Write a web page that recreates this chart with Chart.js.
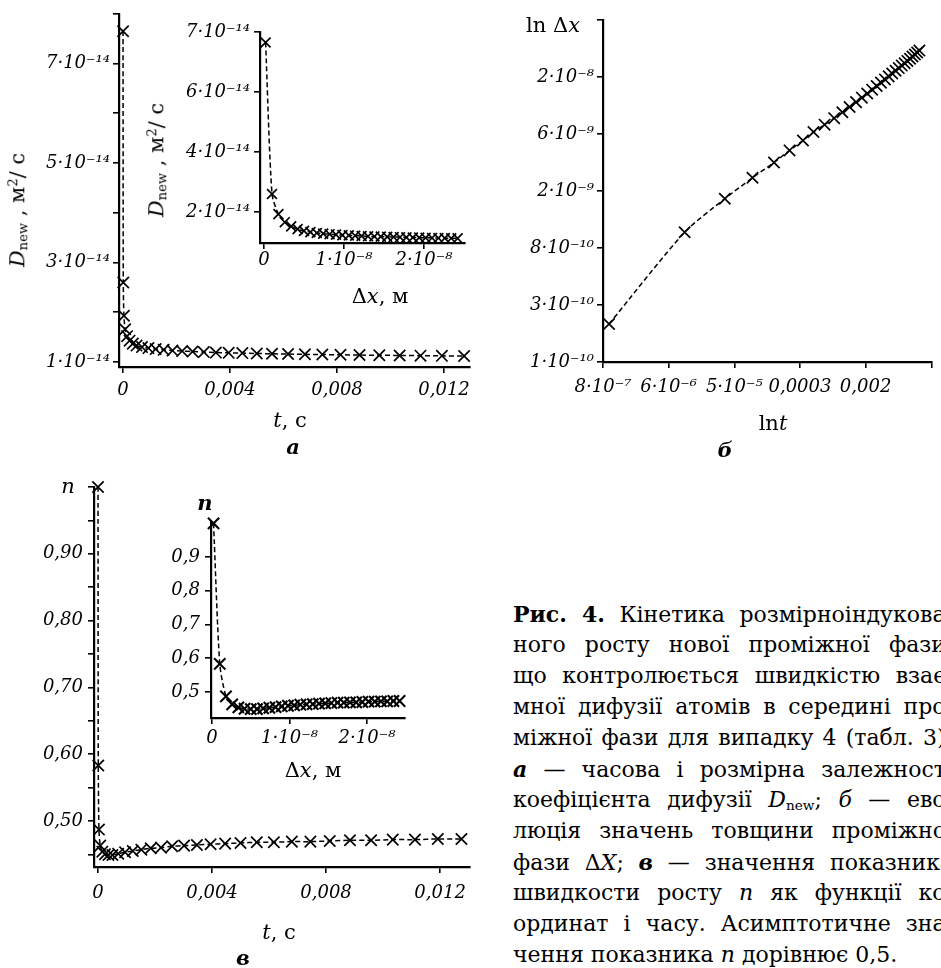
<!DOCTYPE html>
<html><head><meta charset="utf-8">
<script src="https://cdn.jsdelivr.net/npm/chart.js@4.4.0/dist/chart.umd.min.js"></script>
<style>
html,body{margin:0;padding:0;background:#fff;}
#root{position:relative;width:941px;height:968px;overflow:hidden;background:#fff;}
canvas{position:absolute;}
.lbl{position:absolute;font-family:'DejaVu Serif',serif;color:#000;white-space:nowrap;line-height:1;transform:translate(-50%,-50%);font-size:21px;}
.rot{transform:translate(-50%,-50%) rotate(-90deg);}
.lbl sub{font-size:0.62em;vertical-align:-0.25em;}
.lbl sup{font-size:0.62em;vertical-align:0.55em;}
#cap{position:absolute;left:513px;top:598px;width:428px;height:370px;overflow:hidden;font-family:'DejaVu Serif',serif;font-size:22px;color:#000;}
#cap div{position:absolute;left:0;white-space:nowrap;width:440px;text-align:justify;text-align-last:justify;line-height:1;}
#cap div.last{text-align-last:left;}
#cap sub{font-size:0.62em;vertical-align:-0.25em;}
</style>
</head><body>
<div id="root">
<canvas id="aMain" width="480" height="420" style="left:0;top:0;width:480px;height:420px"></canvas>
<canvas id="aInset" width="330" height="310" style="left:150px;top:0;width:330px;height:310px"></canvas>
<canvas id="bLog" width="461" height="470" style="left:480px;top:0;width:461px;height:470px"></canvas>
<canvas id="cMain" width="480" height="500" style="left:0;top:460px;width:480px;height:500px"></canvas>
<canvas id="cInset" width="300" height="290" style="left:150px;top:480px;width:300px;height:290px"></canvas>

<div class="lbl rot" style="left:18px;top:210px;"><i>D</i><sub>new</sub> , м<sup>2</sup>/ с</div>
<div class="lbl" style="left:290px;top:420px;"><i>t</i>, с</div>
<div class="lbl" style="left:293px;top:446px;font-weight:bold;font-style:italic;">а</div>
<div class="lbl rot" style="left:157px;top:160px;"><i>D</i><sub>new</sub> , м<sup>2</sup>/ с</div>
<div class="lbl" style="left:380px;top:296px;">Δ<i>x</i>, м</div>

<div class="lbl" style="left:553px;top:25px;">ln Δ<i>x</i></div>
<div class="lbl" style="left:773px;top:423px;">ln<i>t</i></div>
<div class="lbl" style="left:725px;top:449px;font-weight:bold;font-style:italic;">б</div>

<div class="lbl" style="left:68px;top:486px;font-style:italic;">n</div>
<div class="lbl" style="left:279px;top:932px;"><i>t</i>, с</div>
<div class="lbl" style="left:243px;top:957px;font-weight:bold;font-style:italic;">в</div>
<div class="lbl" style="left:205px;top:502px;font-weight:bold;font-style:italic;">n</div>
<div class="lbl" style="left:313px;top:770px;">Δ<i>x</i>, м</div>

<div id="cap">
<div style="top:5px"><b>Рис. 4.</b> Кінетика розмірноіндукова-</div>
<div style="top:36px">ного росту нової проміжної фази,</div>
<div style="top:67px">що контролюється швидкістю взає-</div>
<div style="top:98px">мної дифузії атомів в середині про-</div>
<div style="top:129px">міжної фази для випадку 4 (табл. 3):</div>
<div style="top:160px"><b><i>а</i></b> — часова і розмірна залежності</div>
<div style="top:191px">коефіцієнта дифузії <i>D</i><sub>new</sub>; <i>б</i> — ево-</div>
<div style="top:222px">люція значень товщини проміжної</div>
<div style="top:253px">фази Δ<i>X</i>; <b><i>в</i></b> — значення показника</div>
<div style="top:284px">швидкости росту <i>n</i> як функції ко-</div>
<div style="top:315px">ординат і часу. Асимптотичне зна-</div>
<div class="last" style="top:346px">чення показника <i>n</i> дорівнює 0,5.</div>
</div>
</div>

<script>
// ---- data ----
const timeValues = [0.000001, 0.00001, 0.000034, 0.000079, 0.000152, 0.000244, 0.000367, 0.000506,
  0.00071, 0.00095, 0.00122, 0.00152, 0.00185, 0.00221, 0.00260, 0.00302, 0.00347, 0.00395,
  0.00446, 0.00500, 0.00557, 0.00617, 0.00680, 0.00745, 0.00813, 0.00884, 0.00958, 0.01034,
  0.01112, 0.01192, 0.01275];
const thicknessValues = [2e-10, 1.0e-9, 1.8e-9, 2.6e-9, 3.4e-9, 4.2e-9, 5.0e-9, 5.8e-9, 6.6e-9,
  7.4e-9, 8.2e-9, 9.0e-9, 9.8e-9, 1.06e-8, 1.14e-8, 1.22e-8, 1.30e-8, 1.38e-8, 1.46e-8, 1.54e-8,
  1.62e-8, 1.70e-8, 1.78e-8, 1.86e-8, 1.94e-8, 2.02e-8, 2.10e-8, 2.18e-8, 2.26e-8, 2.34e-8, 2.42e-8];
const diffusionValues = [7.65e-14, 2.6e-14, 1.93e-14, 1.66e-14, 1.52e-14, 1.43e-14, 1.37e-14, 1.33e-14,
  1.30e-14, 1.28e-14, 1.26e-14, 1.245e-14, 1.23e-14, 1.22e-14, 1.21e-14, 1.20e-14, 1.19e-14,
  1.185e-14, 1.18e-14, 1.172e-14, 1.166e-14, 1.16e-14, 1.155e-14, 1.15e-14, 1.145e-14, 1.14e-14,
  1.136e-14, 1.132e-14, 1.128e-14, 1.124e-14, 1.12e-14];
const exponentValues = [1.0, 0.583, 0.487, 0.463, 0.454, 0.450, 0.449, 0.449, 0.451, 0.453, 0.455,
  0.457, 0.459, 0.460, 0.462, 0.463, 0.464, 0.465, 0.466, 0.467, 0.468, 0.468, 0.469, 0.469,
  0.470, 0.471, 0.471, 0.472, 0.472, 0.473, 0.473];

// ---- tick values and labels ----
const aMainYTicks = [1e-14, 2e-14, 3e-14, 4e-14, 5e-14, 6e-14, 7e-14, 8e-14];
const aMainYLabels = ['1·10⁻¹⁴', '', '3·10⁻¹⁴', '', '5·10⁻¹⁴', '', '7·10⁻¹⁴', ''];
const timeTicks = [0, 0.004, 0.008, 0.012];
const timeLabels = ['0', '0,004', '0,008', '0,012'];
const aInsetYTicks = [2e-14, 4e-14, 6e-14, 8e-14];
const aInsetYLabels = ['2·10⁻¹⁴', '4·10⁻¹⁴', '6·10⁻¹⁴', '7·10⁻¹⁴'];
const thicknessTicks = [0, 1e-8, 2e-8];
const thicknessLabels = ['0', '1·10⁻⁸', '2·10⁻⁸'];
const lnTimeTicks = [-14, -12, -10, -8, -6, -4];
const lnTimeLabels = ['8·10⁻⁷', '6·10⁻⁶', '5·10⁻⁵', '0,0003', '0,002', ''];
const lnThickTicks = [-23, -22, -21, -20, -19, -18, -17];
const lnThickLabels = ['1·10⁻¹⁰', '3·10⁻¹⁰', '8·10⁻¹⁰', '2·10⁻⁹', '6·10⁻⁹', '2·10⁻⁸', ''];
const cMainYTicks = [0.45, 0.50, 0.55, 0.60, 0.65, 0.70, 0.75, 0.80, 0.85, 0.90, 0.95, 1.00];
const cMainYLabels = ['', '0,50', '', '0,60', '', '0,70', '', '0,80', '', '0,90', '', ''];
const cInsetYTicks = [0.5, 0.6, 0.7, 0.8, 0.9];
const cInsetYLabels = ['0,5', '0,6', '0,7', '0,8', '0,9'];

const tickFont = {family: "'DejaVu Serif', serif", style: 'italic', size: 18};

function axis(type, min, max, tickVals, labels, side, fit, pad) {
  return {
    type, min, max,
    afterBuildTicks: s => { s.ticks = tickVals.map(v => ({value: v})); },
    afterFit: s => { if (side === 'x') s.height = fit; else s.width = fit; },
    ticks: {autoSkip: false, maxRotation: 0, minRotation: 0, color: '#000', font: tickFont,
      padding: pad, callback: (v, i) => labels[i]},
    grid: {display: true, drawOnChartArea: false, drawTicks: true, tickLength: 6,
      color: '#000', lineWidth: 1.6},
    border: {display: true, color: '#000', width: 2.2}
  };
}

function series(xs, ys, r, w) {
  return {
    data: xs.map((x, i) => ({x: x, y: ys[i]})),
    showLine: true, borderColor: '#000', borderWidth: 1.5, borderDash: [5, 3],
    pointStyle: 'crossRot', pointRadius: r, pointBorderWidth: w,
    pointBorderColor: '#000', pointBackgroundColor: '#000', fill: false, tension: 0.25,
    clip: false
  };
}

function make(id, ds, xScale, yScale, pad) {
  return new Chart(document.getElementById(id), {
    type: 'scatter',
    data: {datasets: [ds]},
    options: {
      responsive: false, animation: false, devicePixelRatio: 1,
      layout: {padding: pad},
      plugins: {legend: {display: false}, tooltip: {enabled: false}, title: {display: false}},
      scales: {x: xScale, y: yScale}
    }
  });
}

// a: main  (area x 119..470, y 12..367)
make('aMain', series(timeValues, diffusionValues, 8, 1.7),
  axis('linear', -0.00015, 0.01297, timeTicks, timeLabels, 'x', 53, 7),
  axis('linear', 0.9e-14, 8e-14, aMainYTicks, aMainYLabels, 'y', 119, 3),
  {left: 0, right: 10, top: 12, bottom: 0});

// a: inset (area x 260..465, y 32..243) canvas at 150,0
make('aInset', series(thicknessValues, diffusionValues, 7, 1.7),
  axis('linear', -0.05e-8, 2.5125e-8, thicknessTicks, thicknessLabels, 'x', 67, 1),
  axis('linear', 0.967e-14, 8e-14, aInsetYTicks, aInsetYLabels, 'y', 110, 4),
  {left: 0, right: 15, top: 32, bottom: 0});

// б: log-log (area x 603..940, y 20..362) canvas at 480,0
make('bLog', series(timeValues, thicknessValues, 8, 1.7),
  axis('logarithmic', Math.exp(-14), Math.exp(-4), lnTimeTicks.map(Math.exp), lnTimeLabels, 'x', 108, 9),
  axis('logarithmic', Math.exp(-23), Math.exp(-17), lnThickTicks.map(Math.exp), lnThickLabels, 'y', 123, 3),
  {left: 0, right: 1, top: 20, bottom: 0});

// в: main (area x 94..470, y 487..867) canvas at 0,460
make('cMain', series(timeValues, exponentValues, 8, 1.7),
  axis('linear', -0.00014, 0.01305, timeTicks, timeLabels, 'x', 93, 10),
  axis('linear', 0.431, 1.0, cMainYTicks, cMainYLabels, 'y', 94, 5),
  {left: 0, right: 10, top: 27, bottom: 0});

// в: inset (area x 211..405, y 522..718) canvas at 150,480
make('cInset', series(thicknessValues, exponentValues, 8, 2.1),
  axis('linear', -0.013e-8, 2.49e-8, thicknessTicks, thicknessLabels, 'x', 52, 4),
  axis('linear', 0.4226, 1.004, cInsetYTicks, cInsetYLabels, 'y', 61, 5),
  {left: 0, right: 45, top: 42, bottom: 0});
</script>
</body></html>
